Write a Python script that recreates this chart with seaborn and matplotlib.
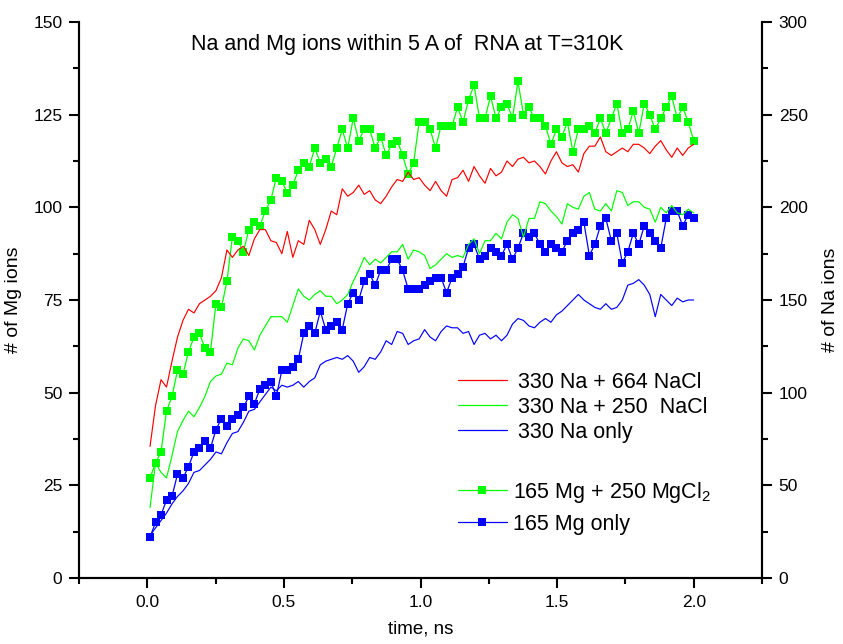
import numpy as np
import matplotlib
matplotlib.use("Agg")
import matplotlib.pyplot as plt
import seaborn as sns
from matplotlib.lines import Line2D
from matplotlib.ticker import MultipleLocator

# ---------------- data ----------------
time_ns = np.linspace(0.01, 2.0, 100)

na_330_664 = [71, 93, 107, 103, 117, 130, 139, 145, 143, 148,
              150, 152, 155, 162, 177, 173, 177, 179, 174, 183,
              188, 188, 182, 181, 175, 187, 173, 182, 180, 193,
              188, 180, 188, 198, 196, 210, 206, 208, 212, 207,
              209, 204, 202, 206, 211, 215, 214, 219, 215, 216,
              212, 209, 214, 209, 206, 215, 216, 220, 214, 222,
              217, 213, 221, 217, 219, 225, 222, 226, 227, 224,
              225, 222, 218, 225, 230, 224, 222, 223, 219, 229,
              233, 233, 238, 230, 228, 230, 232, 230, 234, 234,
              232, 229, 233, 236, 231, 227, 232, 228, 232, 234]

na_330_250 = [38, 62, 57, 54, 66, 79, 85, 90, 87, 92,
              98, 106, 109, 110, 116, 115, 124, 129, 128, 123,
              131, 136, 141, 141, 141, 138, 147, 156, 152, 150,
              153, 155, 152, 152, 148, 150, 153, 160, 166, 173,
              169, 172, 170, 173, 176, 176, 180, 172, 177, 176,
              174, 167, 169, 172, 175, 173, 174, 173, 180, 183,
              175, 182, 182, 186, 183, 192, 196, 194, 184, 194,
              194, 203, 202, 198, 195, 191, 202, 200, 199, 206,
              208, 199, 198, 202, 198, 209, 208, 201, 203, 203,
              200, 199, 192, 200, 197, 201, 197, 196, 199, 197]

na_330_only = [23, 27, 31, 35, 40, 44, 47, 51, 57, 58,
               61, 64, 68, 67, 73, 78, 79, 84, 90, 91,
               95, 99, 103, 101, 104, 103, 104, 106, 103, 106,
               108, 115, 117, 118, 119, 118, 120, 117, 111, 114,
               119, 118, 122, 128, 126, 133, 132, 126, 128, 129,
               134, 130, 128, 133, 136, 135, 135, 132, 133, 126,
               131, 132, 129, 131, 128, 131, 137, 140, 139, 136,
               135, 138, 140, 138, 142, 144, 147, 150, 153, 150,
               148, 146, 145, 148, 145, 146, 150, 158, 159, 161,
               158, 153, 141, 153, 150, 147, 151, 149, 150, 150]

mg_165_250 = [27, 31, 34, 45, 49, 56, 55, 61, 65, 66,
              62, 61, 74, 73, 80, 92, 91, 88, 94, 96,
              95, 99, 102, 108, 107, 104, 106, 110, 112, 111,
              116, 112, 113, 111, 116, 121, 116, 124, 118, 121,
              121, 116, 119, 114, 117, 118, 114, 109, 112, 123,
              123, 121, 116, 122, 122, 122, 127, 123, 129, 133,
              124, 124, 130, 124, 127, 128, 124, 134, 125, 127,
              124, 124, 122, 117, 121, 119, 123, 115, 121, 121,
              122, 120, 124, 120, 124, 128, 120, 121, 126, 120,
              128, 125, 121, 124, 127, 130, 124, 127, 123, 118]

mg_165_only = [11, 15, 17, 21, 22, 28, 27, 30, 34, 35,
               37, 35, 40, 43, 41, 43, 44, 46, 49, 47,
               51, 52, 53, 49, 56, 56, 57, 59, 66, 68,
               66, 72, 67, 68, 69, 67, 74, 77, 75, 80,
               82, 79, 83, 83, 86, 86, 83, 78, 78, 78,
               79, 80, 81, 81, 77, 81, 82, 84, 89, 90,
               86, 87, 89, 88, 87, 90, 86, 89, 93, 92,
               93, 90, 88, 90, 89, 88, 91, 93, 94, 96,
               87, 90, 95, 97, 91, 93, 85, 88, 93, 90,
               95, 93, 91, 89, 97, 99, 99, 95, 98, 97]

line_labels = ["330 Na + 664 NaCl", "330 Na + 250  NaCl", "330 Na only"]
marker_labels = ["165 Mg + 250 MgCl$_2$", "165 Mg only"]
title_text = "Na and Mg ions within 5 A of  RNA at T=310K"
x_ticks = [0.0, 0.5, 1.0, 1.5, 2.0]

RED, GREEN, BLUE = "#ff0000", "#00ff00", "#0000ff"

# ---------------- style ----------------
sns.set_style("ticks")
plt.rcParams['font.family'] = ['Liberation Sans', 'DejaVu Sans']
plt.rcParams['axes.edgecolor'] = 'black'
plt.rcParams['xtick.color'] = 'black'
plt.rcParams['ytick.color'] = 'black'
plt.rcParams['text.color'] = 'black'
plt.rcParams['axes.labelcolor'] = 'black'
plt.rcParams['mathtext.fontset'] = 'custom'
plt.rcParams['mathtext.rm'] = 'Liberation Sans'

W, H = 843, 644
fig = plt.figure(figsize=(W / 100, H / 100), dpi=100)
ax = fig.add_axes([79 / W, 1 - 578 / H, (762 - 79) / W, (578 - 22) / H])
ax2 = ax.twinx()

# Na (right axis) thin lines
for vals, col in zip([na_330_664, na_330_250, na_330_only], [RED, GREEN, BLUE]):
    sns.lineplot(x=time_ns, y=vals, ax=ax2, color=col, linewidth=0.85,
                 estimator=None, sort=False, legend=False)

# Mg (left axis) squares
for vals, col in zip([mg_165_250, mg_165_only], [GREEN, BLUE]):
    sns.lineplot(x=time_ns, y=vals, ax=ax, color=col, linewidth=0.9,
                 marker='s', markersize=6, markeredgewidth=0, markerfacecolor=col,
                 estimator=None, sort=False, legend=False)

ax.set_xlim(-0.25, 2.25)
ax.set_ylim(0, 150)
ax2.set_ylim(0, 300)

ax.xaxis.set_major_locator(MultipleLocator(0.5))
ax.xaxis.set_minor_locator(MultipleLocator(0.25))
ax.set_xticks(x_ticks)
ax.set_xticklabels([f"{v:.1f}" for v in x_ticks])
ax.yaxis.set_major_locator(MultipleLocator(25))
ax.yaxis.set_minor_locator(MultipleLocator(12.5))
ax2.yaxis.set_major_locator(MultipleLocator(50))
ax2.yaxis.set_minor_locator(MultipleLocator(25))

for a in (ax, ax2):
    a.spines['top'].set_visible(False)
    for s in a.spines.values():
        s.set_linewidth(1.5)
    a.tick_params(which='major', direction='out', length=7, width=1.5,
                  labelsize=12.5, pad=5)
    a.tick_params(which='minor', direction='out', length=4, width=1.5)
ax.tick_params(axis='x', which='both', bottom=True)
ax.tick_params(axis='y', which='both', left=True)
ax2.tick_params(axis='y', which='both', right=True)

ax.set_xlabel("time, ns", fontsize=13.5, labelpad=8)
ax.set_ylabel("# of Mg ions", fontsize=14, labelpad=8)
ax2.set_ylabel("# of Na ions", fontsize=14, labelpad=10)

ax.text(0.480, 0.959, title_text, transform=ax.transAxes, ha='center', va='center',
        fontsize=15.5)

# legends
h_lines = [Line2D([], [], color=c, lw=0.9) for c in (RED, GREEN, BLUE)]
h_marks = [Line2D([], [], color=c, lw=0.9, marker='s', markersize=6,
                  markeredgewidth=0) for c in (GREEN, BLUE)]
leg1 = ax2.legend(h_lines, line_labels, loc='upper left',
                  bbox_to_anchor=(449 / W, 1 - 363 / H), bbox_transform=fig.transFigure,
                  frameon=False, fontsize=15.5, handlelength=2.3, handletextpad=0.5,
                  labelspacing=0.19, borderaxespad=0)
ax2.add_artist(leg1)
leg2 = ax2.legend(h_marks, marker_labels, loc='upper left',
                  bbox_to_anchor=(449 / W, 1 - 471 / H), bbox_transform=fig.transFigure,
                  frameon=False, fontsize=15.5, handlelength=2.3, handletextpad=0.28,
                  labelspacing=0.42, borderaxespad=0)

fig.savefig("out.png", dpi=100)
